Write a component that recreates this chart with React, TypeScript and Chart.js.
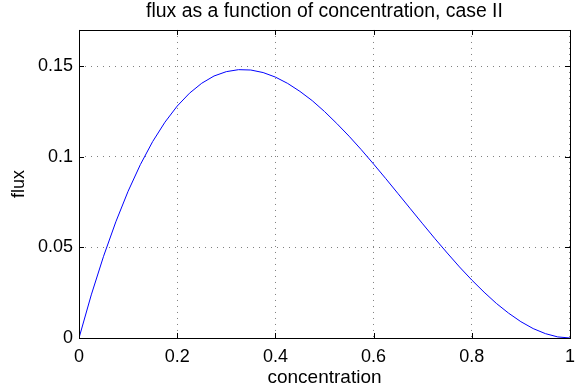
import React, { useEffect, useRef } from "react";
import { Chart, registerables } from "chart.js";

Chart.register(...registerables);

const concentration = [
  0, 0.025, 0.05, 0.075, 0.1, 0.125, 0.15, 0.175, 0.2, 0.225, 0.25, 0.275, 0.3,
  0.325, 0.35, 0.375, 0.4, 0.425, 0.45, 0.475, 0.5, 0.525, 0.55, 0.575, 0.6,
  0.625, 0.65, 0.675, 0.7, 0.725, 0.75, 0.775, 0.8, 0.825, 0.85, 0.875, 0.9,
  0.925, 0.95, 0.975, 1,
];
const flux = [
  0, 0.0238, 0.0451, 0.0641, 0.081, 0.0957, 0.1084, 0.1191, 0.128, 0.1351,
  0.1406, 0.1446, 0.147, 0.1481, 0.1479, 0.1465, 0.144, 0.1405, 0.1361, 0.131,
  0.125, 0.1184, 0.1114, 0.1039, 0.096, 0.0879, 0.0796, 0.0713, 0.063, 0.0548,
  0.0469, 0.0392, 0.032, 0.0253, 0.0191, 0.0137, 0.009, 0.0052, 0.0024,
  0.0006, 0,
];
const xTickValues = [0, 0.2, 0.4, 0.6, 0.8, 1];
const xTickLabels = ["0", "0.2", "0.4", "0.6", "0.8", "1"];
const yTickValues = [0, 0.05, 0.1, 0.15];
const yTickLabels = ["0", "0.05", "0.1", "0.15"];

const titleText = "flux as a function of concentration, case II";
const xTitle = "concentration";
const yTitle = "flux";

const FONT = "'Liberation Sans', Arial, Helvetica, sans-serif";

const boxPlugin = {
  id: "matlabBox",
  afterDraw(chart: any) {
    const { ctx, chartArea } = chart;
    const { left, right, top, bottom } = chartArea;
    const xs = chart.scales.x;
    const ys = chart.scales.y;
    const tl = 5;
    ctx.save();
    ctx.strokeStyle = "#000";
    ctx.lineWidth = 1;
    ctx.beginPath();
    xTickValues.forEach((v) => {
      const px = Math.round(xs.getPixelForValue(v)) + 0.5;
      ctx.moveTo(px, bottom);
      ctx.lineTo(px, bottom - tl);
      ctx.moveTo(px, top);
      ctx.lineTo(px, top + tl);
    });
    yTickValues.forEach((v) => {
      const py = Math.round(ys.getPixelForValue(v)) + 0.5;
      ctx.moveTo(left, py);
      ctx.lineTo(left + tl, py);
      ctx.moveTo(right, py);
      ctx.lineTo(right - tl, py);
    });
    ctx.stroke();
    ctx.strokeRect(
      Math.round(left) + 0.5,
      Math.round(top) + 0.5,
      Math.round(right - left),
      Math.round(bottom - top)
    );
    ctx.restore();
  },
};

export default function App() {
  const ref = useRef<HTMLCanvasElement | null>(null);

  useEffect(() => {
    if (!ref.current) return;
    const chart = new Chart(ref.current, {
      type: "scatter",
      data: {
        datasets: [
          {
            data: concentration.map((c, i) => ({ x: c, y: flux[i] })),
            showLine: true,
            borderColor: "#0000ff",
            borderWidth: 1,
            pointRadius: 0,
            tension: 0,
            fill: false,
          },
        ],
      },
      options: {
        responsive: false,
        animation: false,
        layout: { padding: { left: 0, right: 9, top: 0, bottom: 0 } },
        plugins: {
          legend: { display: false },
          tooltip: { enabled: false },
          title: {
            display: true,
            text: titleText,
            fullSize: false,
            color: "#000",
            font: { family: FONT, size: 19.4, weight: "normal", lineHeight: 1.2 },
            padding: { top: 0, bottom: 6.7 },
          },
        },
        scales: {
          x: {
            type: "linear",
            min: 0,
            max: 1,
            afterBuildTicks: (s: any) => {
              s.ticks = xTickValues.map((v) => ({ value: v }));
            },
            afterFit: (s: any) => {
              s.height = 54;
            },
            ticks: {
              color: "#000",
              font: { family: FONT, size: 18 },
              padding: 8,
              maxRotation: 0,
              autoSkip: false,
              callback: (_v: any, i: number) => xTickLabels[i],
            },
            grid: {
              display: true,
              drawTicks: false,
              color: "rgba(0,0,0,0.5)",
              lineWidth: 1,
            },
            border: { display: false, dash: [1, 5] },
            title: {
              display: true,
              text: xTitle,
              color: "#000",
              font: { family: FONT, size: 19, lineHeight: 1 },
              padding: { top: 0, bottom: 5 },
            },
          },
          y: {
            type: "linear",
            min: 0,
            max: 0.17,
            afterBuildTicks: (s: any) => {
              s.ticks = yTickValues.map((v) => ({ value: v }));
            },
            afterFit: (s: any) => {
              s.width = 79;
            },
            ticks: {
              color: "#000",
              font: { family: FONT, size: 18 },
              padding: 6,
              autoSkip: false,
              callback: (_v: any, i: number) => yTickLabels[i],
            },
            grid: {
              display: true,
              drawTicks: false,
              color: "rgba(0,0,0,0.5)",
              lineWidth: 1,
            },
            border: { display: false, dash: [1, 5] },
            title: {
              display: true,
              text: yTitle,
              color: "#000",
              font: { family: FONT, size: 18, lineHeight: 1 },
              padding: { top: 10, bottom: 0 },
            },
          },
        },
      },
      plugins: [boxPlugin],
    } as any);
    return () => chart.destroy();
  }, []);

  return (
    <div
      style={{
        position: "absolute",
        left: 0,
        top: 0,
        width: 583,
        height: 392,
        background: "#fff",
      }}
    >
      <canvas ref={ref} width={583} height={392} style={{ display: "block" }} />
    </div>
  );
}
